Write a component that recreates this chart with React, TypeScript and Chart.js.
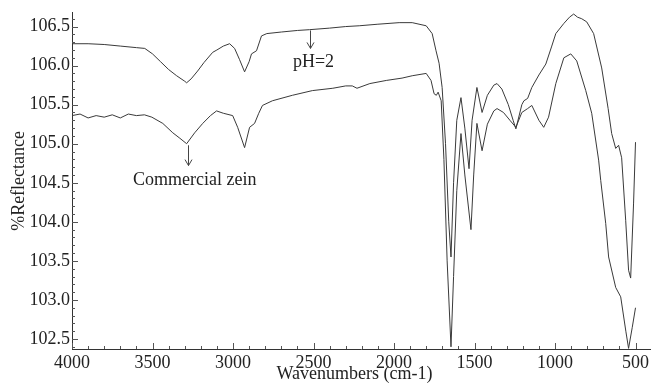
import React, { useEffect, useRef } from "react";
import { Chart, registerables } from "chart.js";

Chart.register(...registerables);

// pH=2 spectrum (upper curve)
const phWave = [
  4000, 3900, 3800, 3700, 3600, 3548, 3500, 3450, 3400, 3350, 3300, 3288, 3260, 3220, 3180,
  3126, 3100, 3060, 3021, 2990, 2960, 2928, 2900, 2885, 2854, 2823, 2790, 2700, 2600, 2525,
  2400, 2300, 2216, 2100, 1968, 1887, 1800, 1763, 1739, 1720, 1701, 1680, 1660, 1646, 1630,
  1610, 1584, 1560, 1534, 1515, 1485, 1453, 1420, 1380, 1360, 1330, 1290, 1260, 1243, 1206,
  1193, 1170, 1144, 1100, 1057, 1020, 995, 945, 910, 884, 860, 834, 803, 760, 710, 670, 648,
  623, 605, 586, 561, 543, 530, 512, 500,
];
const phValue = [
  106.28, 106.28, 106.27, 106.25, 106.23, 106.22, 106.15, 106.05, 105.95, 105.87, 105.8, 105.78,
  105.83, 105.93, 106.04, 106.17, 106.2, 106.25, 106.28, 106.22, 106.08, 105.92, 106.05, 106.15,
  106.19, 106.38, 106.41, 106.43, 106.45, 106.46, 106.48, 106.5, 106.51, 106.53, 106.55, 106.55,
  106.51, 106.41, 106.19, 106.03, 105.72, 105.0, 104.0, 103.55, 104.5, 105.3, 105.59, 105.2,
  104.68, 105.3, 105.72, 105.4, 105.62, 105.75, 105.77, 105.7, 105.5, 105.3, 105.19, 105.5,
  105.55, 105.58, 105.72, 105.88, 106.02, 106.25, 106.41, 106.54, 106.62, 106.66, 106.62, 106.6,
  106.56, 106.41, 105.97, 105.45, 105.13, 104.94, 104.98, 104.82, 104.02, 103.38, 103.28, 104.24,
  105.02,
];

// Commercial zein spectrum (lower curve)
const zeinWave = [
  4000, 3950, 3900, 3850, 3800, 3750, 3700, 3650, 3600, 3550, 3504, 3436, 3374, 3330, 3288,
  3238, 3188, 3140, 3102, 3060, 3002, 2971, 2928, 2897, 2866, 2840, 2817, 2755, 2631, 2507,
  2380, 2300, 2259, 2230, 2150, 2048, 1950, 1887, 1800, 1770, 1751, 1737, 1726, 1707, 1690,
  1670, 1646, 1630, 1610, 1584, 1560, 1522, 1505, 1485, 1453, 1420, 1380, 1360, 1320, 1280,
  1243, 1206, 1170, 1144, 1100, 1070, 1040, 995, 945, 902, 865, 809, 772, 729, 716, 685, 667,
  623, 592, 560, 543, 520, 500,
];
const zeinValue = [
  105.36, 105.38, 105.33, 105.36, 105.34, 105.37, 105.33, 105.38, 105.36, 105.37, 105.34, 105.26,
  105.14, 105.07, 105.0, 105.14, 105.26, 105.36, 105.42, 105.39, 105.36, 105.21, 104.95, 105.21,
  105.26, 105.39, 105.49, 105.55, 105.62, 105.68, 105.71, 105.74, 105.74, 105.71, 105.77, 105.81,
  105.84, 105.87, 105.9, 105.81, 105.64, 105.62, 105.66, 105.55, 104.8, 103.5, 102.4, 103.3,
  104.4, 105.13, 104.6, 103.9, 104.6, 105.26, 104.91, 105.25, 105.42, 105.45, 105.4, 105.3,
  105.21, 105.4, 105.45, 105.49, 105.3, 105.21, 105.34, 105.77, 106.1, 106.15, 106.06, 105.68,
  105.39, 104.79, 104.53, 103.98, 103.55, 103.16, 103.04, 102.6, 102.38, 102.65, 102.9,
];

const seriesNames = ["pH=2", "Commercial zein"];
const xTickValues = [4000, 3500, 3000, 2500, 2000, 1500, 1000, 500];
const yTickValues = [102.5, 103.0, 103.5, 104.0, 104.5, 105.0, 105.5, 106.0, 106.5];
const xTitle = "Wavenumbers (cm-1)";
const yTitle = "%Reflectance";

// labels with arrows, in data coordinates
const annotationText = ["pH=2", "Commercial zein"];
const annotationArrowWave = [2519, 3281];
const annotationArrowFrom = [106.45, 104.98];
const annotationArrowTo = [106.22, 104.72];
const annotationTextWave = [2500, 3238];
const annotationTextValue = [106.04, 104.53];

const FONT = "'Liberation Serif', 'Times New Roman', serif";
const INK = "#222";
const LINE = "#3a3a3a";

const decorPlugin = {
  id: "decor",
  afterDatasetsDraw(chart: any) {
    const { ctx, chartArea, scales } = chart;
    const xs = scales.x;
    const ys = scales.y;
    ctx.save();
    ctx.strokeStyle = "#555";
    ctx.lineWidth = 1;
    // x ticks (inside)
    for (let w = 4000; w >= xs.min; w -= 100) {
      const px = Math.round(xs.getPixelForValue(w)) + 0.5;
      const len = w % 500 === 0 ? 6 : 3;
      ctx.beginPath();
      ctx.moveTo(px, chartArea.bottom);
      ctx.lineTo(px, chartArea.bottom - len);
      ctx.stroke();
    }
    // y ticks (inside)
    for (let i = 1024; i <= 1066; i++) {
      const v = i / 10;
      const py = Math.round(ys.getPixelForValue(v)) + 0.5;
      const len = i % 5 === 0 ? 6 : 3;
      ctx.beginPath();
      ctx.moveTo(chartArea.left, py);
      ctx.lineTo(chartArea.left + len, py);
      ctx.stroke();
    }
    // annotations
    ctx.strokeStyle = "#444";
    ctx.fillStyle = INK;
    ctx.font = `18px ${FONT}`;
    ctx.textAlign = "center";
    ctx.textBaseline = "middle";
    for (let i = 0; i < annotationText.length; i++) {
      const ax = Math.round(xs.getPixelForValue(annotationArrowWave[i])) + 0.5;
      const y0 = ys.getPixelForValue(annotationArrowFrom[i]);
      const y1 = ys.getPixelForValue(annotationArrowTo[i]);
      ctx.beginPath();
      ctx.moveTo(ax, y0);
      ctx.lineTo(ax, y1);
      ctx.moveTo(ax - 3.5, y1 - 6);
      ctx.lineTo(ax, y1);
      ctx.lineTo(ax + 3.5, y1 - 6);
      ctx.stroke();
      ctx.fillText(
        annotationText[i],
        xs.getPixelForValue(annotationTextWave[i]),
        ys.getPixelForValue(annotationTextValue[i])
      );
    }
    ctx.restore();
  },
};

export default function App() {
  const canvasRef = useRef<HTMLCanvasElement | null>(null);

  useEffect(() => {
    const canvas = canvasRef.current;
    if (!canvas) return;
    const toPoints = (ws: number[], vs: number[]) => ws.map((w, i) => ({ x: w, y: vs[i] }));
    const chart = new Chart(canvas, {
      type: "line",
      data: {
        datasets: [
          {
            label: seriesNames[0],
            data: toPoints(phWave, phValue),
            borderColor: LINE,
            borderWidth: 1,
            pointRadius: 0,
            tension: 0,
            fill: false,
          },
          {
            label: seriesNames[1],
            data: toPoints(zeinWave, zeinValue),
            borderColor: LINE,
            borderWidth: 1,
            pointRadius: 0,
            tension: 0,
            fill: false,
          },
        ],
      },
      options: {
        animation: false,
        responsive: false,
        devicePixelRatio: 1,
        layout: { padding: { top: 12, right: 0, left: 0, bottom: 0 } },
        plugins: {
          legend: { display: false },
          tooltip: { enabled: false },
        },
        scales: {
          x: {
            type: "linear",
            reverse: true,
            min: 406,
            max: 4000,
            afterBuildTicks: (s: any) => {
              s.ticks = xTickValues.map((v) => ({ value: v }));
            },
            afterFit: (s: any) => {
              s.height = 34;
            },
            grid: { display: false, drawTicks: false },
            border: { display: true, color: "#333", width: 1 },
            ticks: {
              color: INK,
              font: { family: FONT, size: 18 },
              padding: 3,
              maxRotation: 0,
              autoSkip: false,
              callback: (v: any) => String(v),
            },
            title: {
              display: true,
              text: xTitle + "   ",
              color: INK,
              font: { family: FONT, size: 18, lineHeight: 1 },
              padding: { top: 0, bottom: 0 },
            },
          },
          y: {
            type: "linear",
            min: 102.372,
            max: 106.676,
            afterBuildTicks: (s: any) => {
              s.ticks = yTickValues.map((v) => ({ value: v }));
            },
            afterFit: (s: any) => {
              s.width = 72;
            },
            grid: { display: false, drawTicks: false },
            border: { display: true, color: "#333", width: 1 },
            ticks: {
              color: INK,
              font: { family: FONT, size: 18 },
              padding: 2,
              autoSkip: false,
              callback: (v: any) => Number(v).toFixed(1),
            },
            title: {
              display: true,
              text: yTitle,
              color: INK,
              font: { family: FONT, size: 18, lineHeight: 1 },
              padding: { top: 10, bottom: 0 },
            },
          },
        },
      },
      plugins: [decorPlugin],
    });
    return () => chart.destroy();
  }, []);

  return (
    <div style={{ position: "absolute", left: 0, top: 0, width: 652, height: 383, background: "#fff" }}>
      <canvas ref={canvasRef} width={652} height={383} style={{ display: "block" }} />
    </div>
  );
}
